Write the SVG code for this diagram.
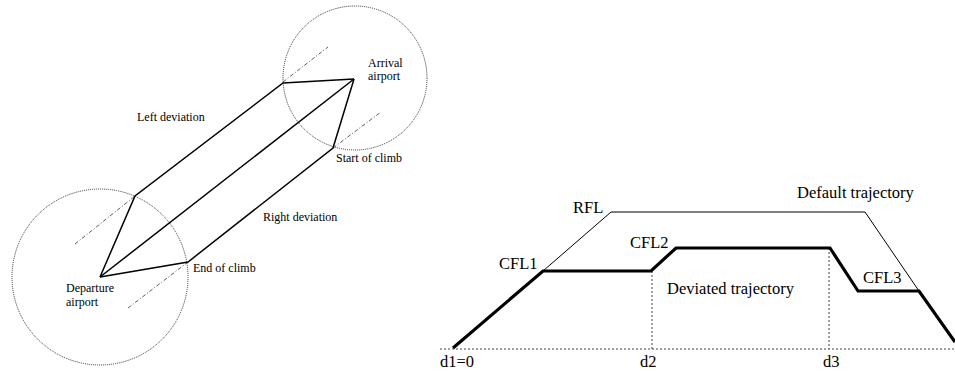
<svg xmlns="http://www.w3.org/2000/svg" width="955" height="371" viewBox="0 0 955 371">
<style>
text{font-family:"Liberation Serif","Times New Roman",serif;fill:#000}
.s{font-size:12px}
.b{font-size:16.5px}
.circ{fill:none;stroke:#333;stroke-width:1;stroke-dasharray:1 1}
.dd{fill:none;stroke:#333;stroke-width:0.8;stroke-dasharray:4 2 1 2}
.route{fill:none;stroke:#000;stroke-width:1.5;stroke-linejoin:miter}
.thin{fill:none;stroke:#000;stroke-width:1}
.thick{fill:none;stroke:#000;stroke-width:3.2}
.dot{fill:none;stroke:#444;stroke-width:1;stroke-dasharray:2 2}
</style>
<rect width="955" height="371" fill="#fff"/>
<g id="departure">
<circle class="circ" cx="100" cy="277" r="88"/>
<text class="s" x="66" y="292">Departure</text>
<text class="s" x="66" y="306">airport</text>
</g>
<g id="arrival">
<circle class="circ" cx="355" cy="78" r="72"/>
<text class="s" x="368" y="67">Arrival</text>
<text class="s" x="368" y="80">airport</text>
</g>
<g id="connectors">
<line class="dd" x1="75" y1="244" x2="135" y2="196"/>
<line class="dd" x1="128" y1="308" x2="188" y2="262"/>
<line class="dd" x1="283" y1="82" x2="328" y2="47"/>
<line class="dd" x1="333" y1="148" x2="381" y2="112"/>
<polyline class="route" points="100,277 135,196 283,83 354,79"/>
<polyline class="route" points="100,277 188,262 333,148 354,79"/>
<line class="route" x1="100" y1="277" x2="354" y2="79"/>
</g>
<g id="left-labels">
<text class="s" x="137" y="121">Left deviation</text>
<text class="s" x="336" y="162">Start of climb</text>
<text class="s" x="263" y="221">Right deviation</text>
<text class="s" x="193" y="272">End of climb</text>
</g>
<g id="profile">
<line class="dot" x1="440" y1="349" x2="955" y2="349"/>
<line class="dot" x1="652" y1="271" x2="652" y2="349"/>
<line class="dot" x1="829" y1="248" x2="829" y2="349"/>
<polyline class="thin" points="543,271 611,212 865,212 919,291"/>
<polyline class="thick" points="453,348 543,271 651,271 676,248 830,248 858,291 919,291 955,342"/>
<text class="b" x="797" y="198">Default trajectory</text>
<text class="b" x="573" y="213">RFL</text>
<text class="b" x="630" y="248">CFL2</text>
<text class="b" x="499" y="269">CFL1</text>
<text class="b" x="863" y="283">CFL3</text>
<text class="b" x="667" y="294">Deviated trajectory</text>
<text class="b" x="440" y="367">d1=0</text>
<text class="b" x="640" y="367">d2</text>
<text class="b" x="823" y="367">d3</text>
</g>
</svg>
